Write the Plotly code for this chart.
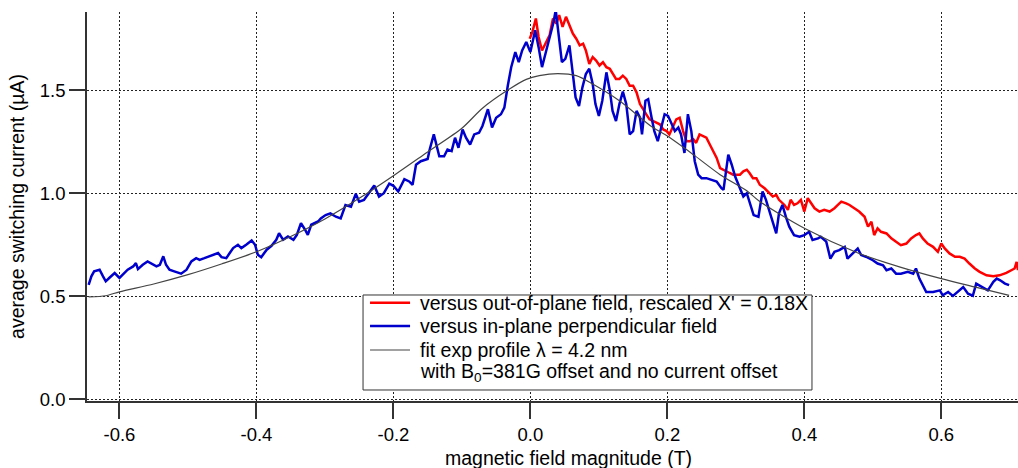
import plotly.graph_objects as go

# In-plane perpendicular field sweep (blue)
inplane_b = [
    -0.645, -0.641, -0.637, -0.629, -0.624, -0.620, -0.615, -0.607, -0.600, -0.595,
    -0.588, -0.580, -0.576, -0.573, -0.566, -0.559, -0.554, -0.546, -0.541, -0.536,
    -0.532, -0.527, -0.520, -0.510, -0.502, -0.495, -0.488, -0.483, -0.476, -0.468,
    -0.461, -0.456, -0.451, -0.444, -0.439, -0.434, -0.427, -0.422, -0.415, -0.407,
    -0.402, -0.398, -0.393, -0.385, -0.378, -0.371, -0.367, -0.361, -0.354, -0.346,
    -0.341, -0.335, -0.329, -0.325, -0.320, -0.310, -0.306, -0.299, -0.292, -0.284,
    -0.277, -0.270, -0.262, -0.255, -0.250, -0.243, -0.236, -0.228, -0.221, -0.214,
    -0.206, -0.200, -0.193, -0.184, -0.177, -0.172, -0.167, -0.160, -0.150, -0.147,
    -0.141, -0.137, -0.133, -0.126, -0.121, -0.115, -0.110, -0.105, -0.099, -0.094,
    -0.088, -0.082, -0.075, -0.070, -0.062, -0.056, -0.050, -0.043, -0.038, -0.033,
    -0.028, -0.022, -0.017, -0.012, -0.006, 0.000, 0.003, 0.007, 0.012, 0.017,
    0.022, 0.029, 0.034, 0.037, 0.041, 0.046, 0.051, 0.057, 0.062, 0.066,
    0.071, 0.076, 0.081, 0.086, 0.091, 0.095, 0.100, 0.105, 0.111, 0.116,
    0.120, 0.125, 0.130, 0.135, 0.140, 0.145, 0.150, 0.155, 0.160, 0.163,
    0.168, 0.172, 0.177, 0.181, 0.186, 0.191, 0.196, 0.201, 0.206, 0.211,
    0.216, 0.220, 0.225, 0.230, 0.235, 0.240, 0.245, 0.250, 0.257, 0.264,
    0.272, 0.279, 0.282, 0.285, 0.289, 0.294, 0.299, 0.306, 0.311, 0.316,
    0.320, 0.326, 0.333, 0.339, 0.344, 0.351, 0.359, 0.363, 0.368, 0.373,
    0.378, 0.385, 0.393, 0.400, 0.407, 0.412, 0.420, 0.424, 0.432, 0.438,
    0.444, 0.451, 0.459, 0.463, 0.471, 0.478, 0.483, 0.490, 0.500, 0.507,
    0.515, 0.520, 0.527, 0.534, 0.541, 0.551, 0.559, 0.563, 0.568, 0.573,
    0.578, 0.588, 0.598, 0.602, 0.610, 0.617, 0.624, 0.632, 0.639, 0.646,
    0.651, 0.659, 0.668, 0.676, 0.681, 0.686, 0.693, 0.699,
]
inplane_i = [
    0.556, 0.597, 0.621, 0.629, 0.597, 0.573, 0.589, 0.613, 0.589, 0.605,
    0.629, 0.645, 0.661, 0.632, 0.653, 0.669, 0.661, 0.645, 0.653, 0.694,
    0.653, 0.629, 0.621, 0.610, 0.629, 0.669, 0.685, 0.677, 0.685, 0.694,
    0.702, 0.710, 0.690, 0.685, 0.710, 0.734, 0.750, 0.734, 0.750, 0.771,
    0.750, 0.702, 0.690, 0.726, 0.745, 0.774, 0.806, 0.774, 0.790, 0.774,
    0.798, 0.855, 0.823, 0.798, 0.847, 0.863, 0.878, 0.894, 0.902, 0.886,
    0.878, 0.943, 0.935, 0.997, 0.959, 0.967, 1.000, 1.037, 0.984, 1.000,
    1.046, 1.036, 1.008, 1.068, 1.057, 1.041, 1.138, 1.155, 1.166, 1.212,
    1.285, 1.228, 1.179, 1.179, 1.212, 1.204, 1.269, 1.220, 1.309, 1.269,
    1.236, 1.285, 1.293, 1.326, 1.407, 1.318, 1.366, 1.383, 1.415, 1.521,
    1.611, 1.684, 1.635, 1.692, 1.733, 1.684, 1.725, 1.790, 1.708, 1.611,
    1.676, 1.765, 1.831, 1.888, 1.782, 1.635, 1.651, 1.717, 1.578, 1.464,
    1.423, 1.513, 1.578, 1.603, 1.529, 1.432, 1.375, 1.448, 1.586, 1.497,
    1.399, 1.350, 1.432, 1.493, 1.432, 1.285, 1.301, 1.399, 1.366, 1.285,
    1.448, 1.456, 1.366, 1.301, 1.252, 1.318, 1.383, 1.375, 1.334, 1.301,
    1.318, 1.285, 1.195, 1.383, 1.301, 1.155, 1.090, 1.073, 1.073, 1.065,
    1.057, 1.024, 1.016, 1.090, 1.187, 1.138, 1.081, 1.024, 0.984, 1.000,
    0.959, 0.894, 0.886, 1.008, 0.968, 0.894, 0.805, 0.903, 0.943, 0.886,
    0.838, 0.797, 0.789, 0.797, 0.813, 0.773, 0.781, 0.789, 0.765, 0.683,
    0.716, 0.724, 0.740, 0.683, 0.708, 0.732, 0.700, 0.692, 0.675, 0.659,
    0.651, 0.627, 0.635, 0.610, 0.610, 0.619, 0.610, 0.635, 0.586, 0.554,
    0.521, 0.521, 0.529, 0.505, 0.521, 0.502, 0.521, 0.545, 0.513, 0.503,
    0.562, 0.545, 0.529, 0.570, 0.586, 0.578, 0.562, 0.554,
]

# Out-of-plane field sweep, field axis rescaled by 0.18 (red)
outplane_b = [
    -0.001, 0.003, 0.008, 0.012, 0.017, 0.022, 0.028, 0.033, 0.038, 0.042,
    0.047, 0.052, 0.057, 0.062, 0.067, 0.072, 0.077, 0.081, 0.086, 0.091,
    0.096, 0.101, 0.106, 0.111, 0.116, 0.120, 0.125, 0.130, 0.135, 0.140,
    0.145, 0.150, 0.155, 0.160, 0.164, 0.169, 0.174, 0.179, 0.184, 0.189,
    0.194, 0.199, 0.203, 0.208, 0.213, 0.218, 0.223, 0.228, 0.233, 0.238,
    0.242, 0.247, 0.252, 0.257, 0.262, 0.267, 0.272, 0.277, 0.281, 0.286,
    0.291, 0.296, 0.301, 0.306, 0.311, 0.316, 0.320, 0.325, 0.330, 0.335,
    0.342, 0.347, 0.354, 0.359, 0.363, 0.371, 0.376, 0.380, 0.385, 0.390,
    0.395, 0.400, 0.405, 0.410, 0.415, 0.422, 0.429, 0.437, 0.444, 0.449,
    0.454, 0.461, 0.466, 0.473, 0.480, 0.488, 0.493, 0.498, 0.502, 0.507,
    0.512, 0.520, 0.527, 0.534, 0.541, 0.549, 0.556, 0.563, 0.568, 0.573,
    0.580, 0.588, 0.595, 0.600, 0.605, 0.612, 0.620, 0.627, 0.634, 0.641,
    0.649, 0.656, 0.666, 0.676, 0.685, 0.695, 0.702, 0.707, 0.710, 0.712,
]
outplane_i = [
    1.749, 1.782, 1.847, 1.757, 1.692, 1.725, 1.765, 1.847, 1.822, 1.863,
    1.806, 1.855, 1.814, 1.774, 1.749, 1.717, 1.725, 1.692, 1.627, 1.660,
    1.643, 1.619, 1.635, 1.611, 1.603, 1.578, 1.554, 1.554, 1.570, 1.554,
    1.521, 1.521, 1.489, 1.432, 1.407, 1.383, 1.358, 1.350, 1.342, 1.334,
    1.309, 1.301, 1.285, 1.318, 1.358, 1.366, 1.301, 1.252, 1.252, 1.261,
    1.244, 1.285, 1.277, 1.269, 1.236, 1.204, 1.171, 1.122, 1.114, 1.106,
    1.098, 1.090, 1.090, 1.090, 1.106, 1.114, 1.098, 1.073, 1.073, 1.041,
    1.024, 1.008, 0.984, 0.992, 0.968, 0.943, 0.919, 0.968, 0.943, 0.951,
    0.968, 0.911, 0.976, 0.951, 0.927, 0.911, 0.919, 0.911, 0.927, 0.943,
    0.959, 0.951, 0.943, 0.927, 0.911, 0.886, 0.838, 0.862, 0.797, 0.830,
    0.813, 0.805, 0.781, 0.765, 0.748, 0.756, 0.781, 0.797, 0.805, 0.781,
    0.756, 0.740, 0.716, 0.756, 0.732, 0.708, 0.692, 0.692, 0.683, 0.659,
    0.635, 0.619, 0.602, 0.597, 0.602, 0.614, 0.627, 0.635, 0.667, 0.627,
]

# Exponential-profile fit curve
fit_b = [
    -0.645, -0.620, -0.600, -0.550, -0.500, -0.450, -0.400, -0.350, -0.300, -0.250,
    -0.200, -0.150, -0.100, -0.070, -0.033, -0.006, 0.013, 0.040, 0.067, 0.091,
    0.130, 0.179, 0.200, 0.238, 0.277, 0.316, 0.334, 0.400, 0.480, 0.540,
    0.600, 0.650, 0.699,
]
fit_i = [
    0.497, 0.503, 0.522, 0.560, 0.605, 0.658, 0.716, 0.790, 0.875, 0.975,
    1.085, 1.200, 1.315, 1.412, 1.500, 1.552, 1.570, 1.580, 1.570, 1.529,
    1.448, 1.318, 1.277, 1.187, 1.090, 1.012, 0.962, 0.830, 0.708, 0.642,
    0.586, 0.545, 0.505,
]

x_ticks = [-0.6, -0.4, -0.2, 0.0, 0.2, 0.4, 0.6]
x_tick_text = ["-0.6", "-0.4", "-0.2", "0.0", "0.2", "0.4", "0.6"]
y_ticks = [0.0, 0.5, 1.0, 1.5]
y_tick_text = ["0.0", "0.5", "1.0", "1.5"]

FONT = "Liberation Sans, Arial, sans-serif"
AXIS_COLOR = "#333333"
RED = "#ff0000"
BLUE = "#0000cc"
FIT = "#444444"

series = [
    dict(x=outplane_b, y=outplane_i, color=RED, width=2.5,
         name="versus out-of-plane field, rescaled X' = 0.18X"),
    dict(x=inplane_b, y=inplane_i, color=BLUE, width=2.5,
         name="versus in-plane perpendicular field"),
    dict(x=fit_b, y=fit_i, color=FIT, width=1.2,
         name="fit exp profile \u03bb = 4.2 nm"),
]
fit_note = "with B<sub>0</sub>=381G offset and no current offset"

fig = go.Figure()
for s in series:
    line = dict(color=s["color"], width=s["width"])
    if s["color"] == FIT:
        line.update(shape="spline", smoothing=0.8)
    fig.add_trace(go.Scatter(x=s["x"], y=s["y"], mode="lines", line=line,
                             name=s["name"], showlegend=False))

# Boxed key in the lower middle of the plot area (paper coordinates)
key_x0, key_x1 = 0.2965, 0.7787
key_y0, key_y1 = 0.0283, 0.2725
row_y = [0.2527, 0.1925, 0.1311, 0.0728]
swatch_x0, swatch_x1 = 0.3040, 0.3470
text_x = 0.3550

shapes = [dict(type="rect", xref="paper", yref="paper",
               x0=key_x0, x1=key_x1, y0=key_y0, y1=key_y1,
               line=dict(color=AXIS_COLOR, width=1), fillcolor="white",
               layer="above")]
annotations = []
labels = [s["name"] for s in series] + [fit_note]
for i, label in enumerate(labels):
    if i < len(series):
        shapes.append(dict(type="line", xref="paper", yref="paper",
                           x0=swatch_x0, x1=swatch_x1, y0=row_y[i], y1=row_y[i],
                           line=dict(color=series[i]["color"],
                                     width=series[i]["width"]),
                           layer="above"))
    annotations.append(dict(xref="paper", yref="paper", x=text_x, y=row_y[i],
                            xanchor="left", yanchor="middle", showarrow=False,
                            text=label,
                            font=dict(family=FONT, size=19.5, color="black")))

# x-axis title, set slightly right of the plot centre
annotations.append(dict(xref="paper", yref="paper", x=0.5172, y=-0.1465,
                        xanchor="center", yanchor="middle", showarrow=False,
                        text="magnetic field magnitude (T)",
                        font=dict(family=FONT, size=19.5, color="black")))

axis_common = dict(
    showgrid=True, gridcolor="#222222", griddash="2px,2px", gridwidth=1,
    showline=True, linecolor=AXIS_COLOR, linewidth=1.5,
    ticks="outside", ticklen=16, tickwidth=1.5, tickcolor=AXIS_COLOR,
    zeroline=False, automargin=False,
    tickfont=dict(family=FONT, size=18.5, color="black"),
)

fig.update_layout(
    width=1018, height=468, autosize=False,
    margin=dict(l=87, r=0, t=12, b=67),
    plot_bgcolor="white", paper_bgcolor="white",
    font=dict(family=FONT, size=19.5, color="black"),
    xaxis=dict(
        range=[-0.6474, 0.7120], tickvals=x_ticks, ticktext=x_tick_text,
        **axis_common,
    ),
    yaxis=dict(
        range=[-0.0073, 1.8784], tickvals=y_ticks, ticktext=y_tick_text,
        title=dict(text="average switching current (\u00b5A)",
                   font=dict(family=FONT, size=19.5), standoff=10),
        **axis_common,
    ),
    shapes=shapes,
    annotations=annotations,
    showlegend=False,
)

fig.write_html("out.html")
